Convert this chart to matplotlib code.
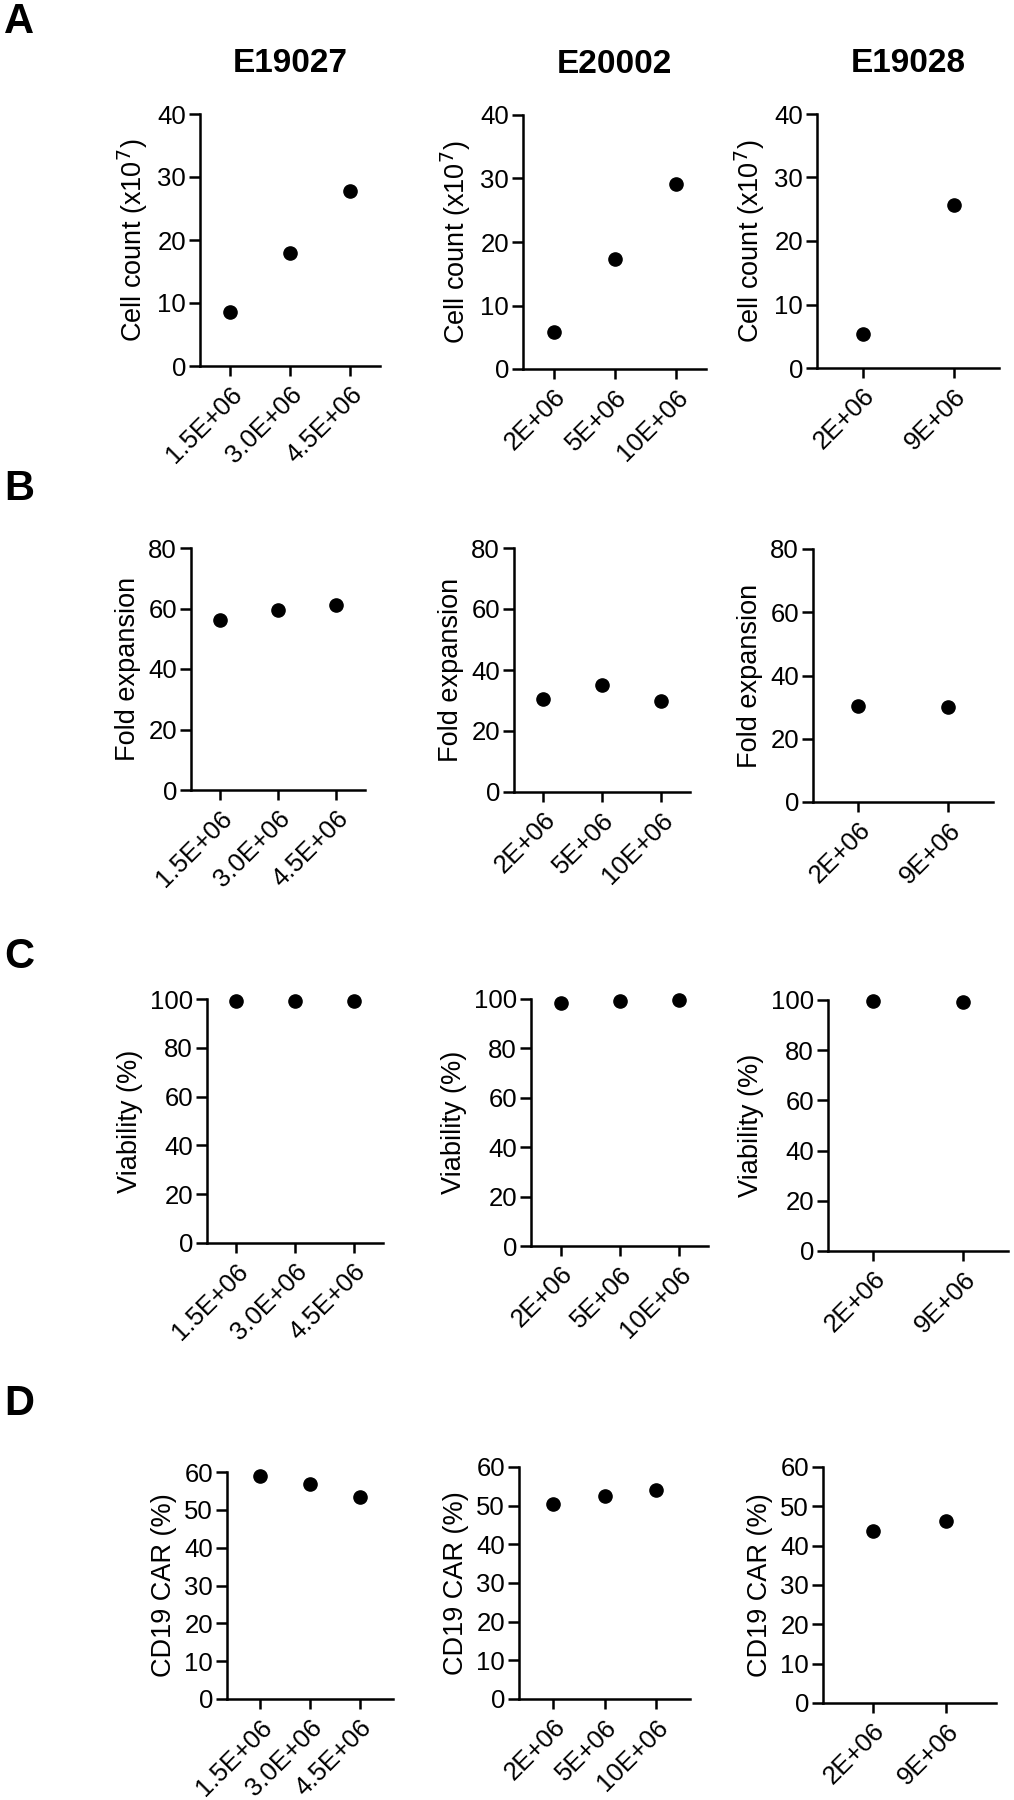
import numpy as np
import matplotlib
matplotlib.use("Agg")
import matplotlib.pyplot as plt

plt.rcParams['font.family'] = ['Liberation Sans', 'DejaVu Sans']

# donors and seeding doses
donors = ["E19027", "E20002", "E19028"]
doses_19027 = ["1.5E+06", "3.0E+06", "4.5E+06"]
doses_20002 = ["2E+06", "5E+06", "10E+06"]
doses_19028 = ["2E+06", "9E+06"]

# A: cell count (x10^7)
count_19027 = [8.5, 17.9, 27.7]
count_20002 = [5.8, 17.4, 29.2]
count_19028 = [5.4, 25.6]
# B: fold expansion
fold_19027 = [56.2, 59.5, 61.2]
fold_20002 = [30.4, 35.1, 29.9]
fold_19028 = [30.4, 29.9]
# C: viability (%)
viab_19027 = [99.3, 99.3, 99.3]
viab_20002 = [98.4, 99.0, 99.4]
viab_19028 = [99.6, 99.4]
# D: CD19 CAR (%)
car_19027 = [58.9, 56.9, 53.4]
car_20002 = [50.5, 52.4, 54.0]
car_19028 = [43.8, 46.2]

W, H = 1014, 1800
fig = plt.figure(figsize=(W/100, H/100), dpi=100)

def box(l, r, t, b):
    return [l/W, 1 - b/H, (r - l)/W, (b - t)/H]

rows = [
    ("Cell count (x10$^{7}$)", 40, 10, [count_19027, count_20002, count_19028],
     [(200, 380, 114, 366), (523, 706, 115, 369), (817, 999, 114, 368)], 0.5),
    ("Fold expansion", 80, 20, [fold_19027, fold_20002, fold_19028],
     [(191, 365, 548, 790), (514, 690, 548, 792), (813, 993, 549, 802)], 0.5),
    ("Viability (%)", 100, 20, [viab_19027, viab_20002, viab_19028],
     [(207, 383, 999, 1243), (531, 708, 999, 1246), (828, 1008, 1000, 1251)], 0.5),
    ("CD19 CAR (%)", 60, 10, [car_19027, car_20002, car_19028],
     [(227, 393, 1472, 1699), (519, 690, 1467, 1699), (823, 996, 1467, 1703)], 0.67),
]
dose_sets = [doses_19027, doses_20002, doses_19028]

for r, (ylab, ymax, step, vals, boxes, pad) in enumerate(rows):
    for c in range(3):
        ax = fig.add_axes(box(*boxes[c]))
        x = np.arange(len(dose_sets[c]))
        ax.plot(x, vals[c], 'o', color='black', markersize=9.5, clip_on=False)
        ax.set_xlim(-pad, len(x) - 1 + pad)
        ax.set_ylim(0, ymax)
        ax.set_yticks(np.arange(0, ymax + 1, step))
        ax.set_xticks(x)
        ax.set_xticklabels(dose_sets[c], rotation=45, ha='right', va='top',
                           rotation_mode='anchor', fontsize=18.5)
        ax.tick_params(axis='y', labelsize=18.5, length=8, width=1.8, pad=2)
        ax.tick_params(axis='x', length=7.5, width=1.8, pad=4)
        for s in ['top', 'right']:
            ax.spines[s].set_visible(False)
        for s in ['left', 'bottom']:
            ax.spines[s].set_linewidth(1.8)
        ax.set_ylabel(ylab, fontsize=19.5, labelpad=5)
        if r == 0:
            ax.set_title(donors[c], fontsize=24, fontweight='bold', pad=30)

for letter, y in zip("ABCD", [22, 489, 957, 1404]):
    fig.text(4/W, 1 - y/H, letter, fontsize=30, fontweight='bold', va='center', ha='left')

fig.savefig("out.png", dpi=100)
